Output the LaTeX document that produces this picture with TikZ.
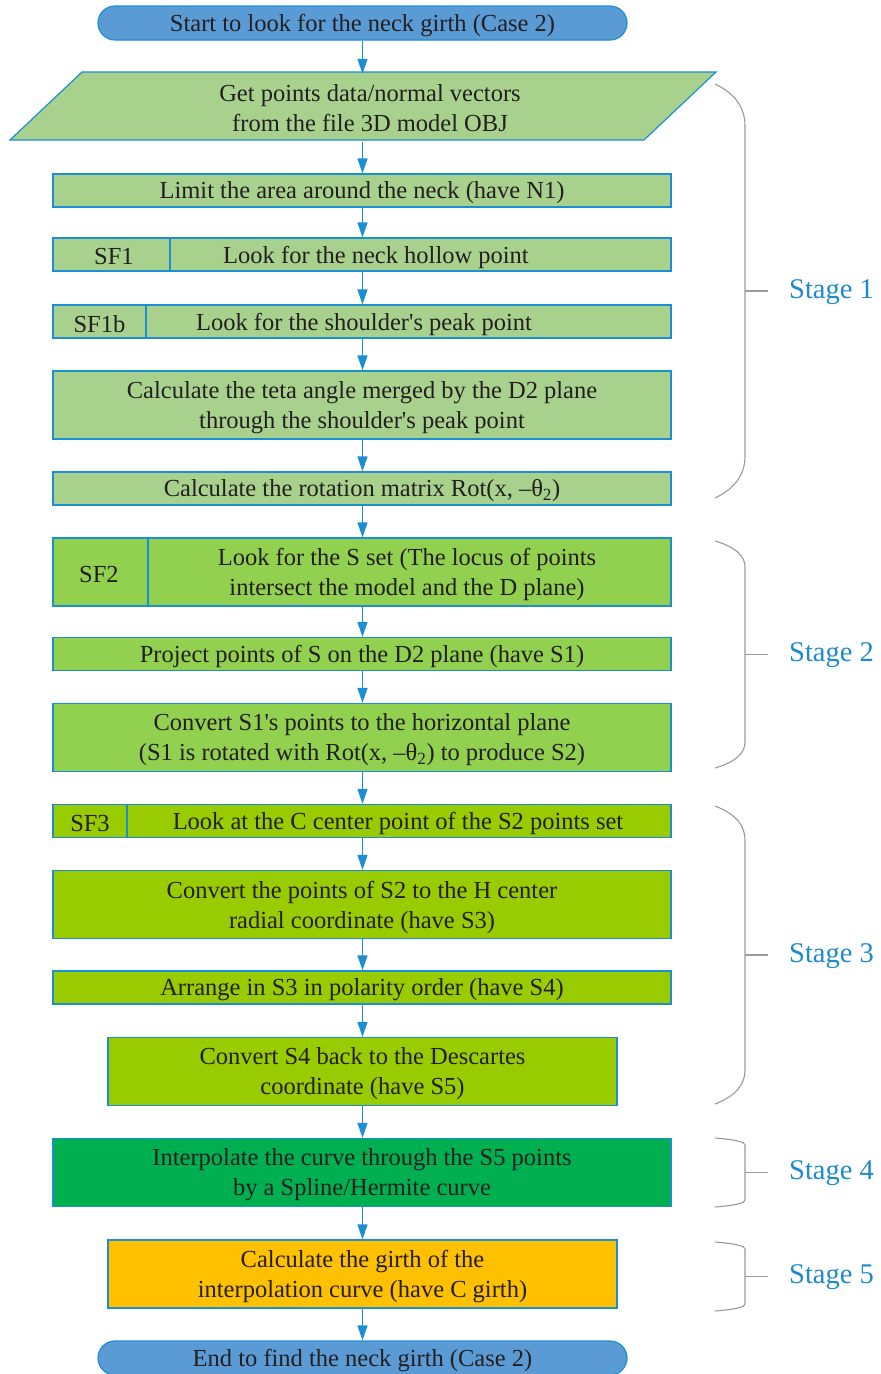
\documentclass[tikz,border=0pt]{standalone}
\usepackage{fontspec}
\setmainfont{Liberation Serif}
\usetikzlibrary{arrows.meta}
\definecolor{edge}{HTML}{1B8FD2}
\definecolor{ink}{HTML}{231F20}
\definecolor{term}{HTML}{5B9BD5}
\definecolor{gA}{HTML}{A9D18E}
\definecolor{gB}{HTML}{92D050}
\definecolor{gC}{HTML}{99CC00}
\definecolor{gD}{HTML}{00B050}
\definecolor{gE}{HTML}{FFC000}
\definecolor{bracecol}{HTML}{9A9A9A}
\definecolor{stagecol}{HTML}{1E8ACB}

% brace on the right of a stage: #1 top y, #2 bottom y, #3 bend depth, #4 label
\newcommand{\stagebrace}[4]{%
  \draw[bracel] (715,#1) .. controls (737,{#1+0.25*#3}) and (745,{#1+0.6*#3}) .. (745,{#1+#3})
    -- (745,{#2-#3}) .. controls (745,{#2-0.6*#3}) and (737,{#2-0.25*#3}) .. (715,#2);
  \draw[bracel] (745,{(#1+#2)/2}) -- (768,{(#1+#2)/2});
  \node[stagelbl] at (789,{(#1+#2)/2+1}) {#4};
}
\newcommand{\apos}{\textquotesingle}

\begin{document}
\begin{tikzpicture}[x=1pt,y=-1pt,
  txt/.style={font=\fontsize{24.5}{30}\selectfont, text=ink, align=center, inner sep=0pt},
  panel/.style={draw=edge, line width=1.2pt, minimum width=618pt, inner sep=0pt},
  say/.style={label={[txt, yshift=-2.5pt]center:#1}},
  short/.style={minimum width=509pt},
  one/.style={minimum height=33pt},
  two/.style={minimum height=68pt},
  termbox/.style={draw=edge, line width=1.2pt, fill=term, rounded corners=17pt,
    minimum width=529pt, minimum height=34pt, inner sep=0pt},
  divl/.style={draw=edge, line width=1.2pt},
  flow/.style={draw=edge, line width=1.3pt, -{Triangle[length=15pt,width=10pt]}},
  bracel/.style={draw=bracecol, line width=1.1pt},
  stagelbl/.style={font=\fontsize{28.5}{32}\selectfont, text=stagecol, anchor=west, inner sep=0pt}
]
\useasboundingbox (0,0) rectangle (881,1374);

% start terminal
\node[termbox, say={Start to look for the neck girth (Case 2)}] (start) at (362.5,23) {};

% input parallelogram
\fill[gA] (82,72) -- (716,72) -- (644,140) -- (10,140) -- cycle;
\draw[edge, line width=1.2pt] (82,72) -- (716,72) -- (644,140) -- (10,140) -- cycle;
\node[txt, minimum width=560pt, minimum height=68pt] (get) at (370,108)
  {Get points data/normal vectors\\ from the file 3D model OBJ};

% stage 1
\node[panel, fill=gA, one, say={Limit the area around the neck (have N1)}] (limit) at (362,190.5) {};

\node[panel, fill=gA, one] (sf1) at (362,254.5) {};
\draw[divl] (170,238) -- (170,271);
\node[txt] (sf1l) at (114,257) {SF1};
\node[txt] (sf1t) at (376,257) {Look for the neck hollow point};

\node[panel, fill=gA, one] (sf1b) at (362,321.5) {};
\draw[divl] (146,305) -- (146,338);
\node[txt] (sf1bl) at (99.5,324) {SF1b};
\node[txt] (sf1bt) at (364,324) {Look for the shoulder\apos s peak point};

\node[panel, fill=gA, two,
  say={Calculate the teta angle merged by the D2 plane\\ through the shoulder\apos s peak point}]
  (teta) at (362,405) {};

\node[panel, fill=gA, one,
  say={Calculate the rotation matrix Rot(x, –θ\textsubscript{2})}] (rot) at (362,488.5) {};

% stage 2
\node[panel, fill=gB, two] (sf2) at (362,572) {};
\draw[divl] (148,538) -- (148,606);
\node[txt] (sf2l) at (99,574.5) {SF2};
\node[txt] (sf2t) at (407,574.5) {Look for the S set (The locus of points\\ intersect the model and the D plane)};

\node[panel, fill=gB, one, say={Project points of S on the D2 plane (have S1)}] (proj) at (362,654) {};

\node[panel, fill=gB, two,
  say={Convert S1\apos s points to the horizontal plane\\ (S1 is rotated with Rot(x, –θ\textsubscript{2}) to produce S2)}]
  (conv1) at (362,737.5) {};

% stage 3
\node[panel, fill=gC, one] (sf3) at (362,821) {};
\draw[divl] (127,805) -- (127,837);
\node[txt] (sf3l) at (90,823.5) {SF3};
\node[txt] (sf3t) at (398,823.5) {Look at the C center point of the S2 points set};

\node[panel, fill=gC, two,
  say={Convert the points of S2 to the H center\\ radial coordinate (have S3)}] (conv2) at (362,904.5) {};

\node[panel, fill=gC, one, say={Arrange in S3 in polarity order (have S4)}] (arr) at (362,987.5) {};

\node[panel, short, fill=gC, two,
  say={Convert S4 back to the Descartes\\ coordinate (have S5)}] (conv3) at (362.5,1071.5) {};

% stage 4
\node[panel, fill=gD, two,
  say={Interpolate the curve through the S5 points\\ by a Spline/Hermite curve}] (interp) at (362,1172.5) {};

% stage 5
\node[panel, short, fill=gE, two,
  say={Calculate the girth of the\\ interpolation curve (have C girth)}] (girth) at (362.5,1274) {};

% end terminal
\node[termbox, say={End to find the neck girth (Case 2)}] (stop) at (362.5,1358) {};

% connectors
\foreach \a/\b in {start/get, get/limit, limit/sf1, sf1/sf1b, sf1b/teta, teta/rot,
  rot/sf2, sf2/proj, proj/conv1, conv1/sf3, sf3/conv2, conv2/arr, arr/conv3,
  conv3/interp, interp/girth, girth/stop}
  \draw[flow] (\a.south -| 362.5,0) -- (\b.north -| 362.5,0);

% stage braces
\stagebrace{84}{498}{42}{Stage 1}
\stagebrace{541}{768}{26}{Stage 2}
\stagebrace{806}{1104}{34}{Stage 3}
\stagebrace{1138}{1207}{7}{Stage 4}
\stagebrace{1242}{1311}{7}{Stage 5}
\end{tikzpicture}
\end{document}
